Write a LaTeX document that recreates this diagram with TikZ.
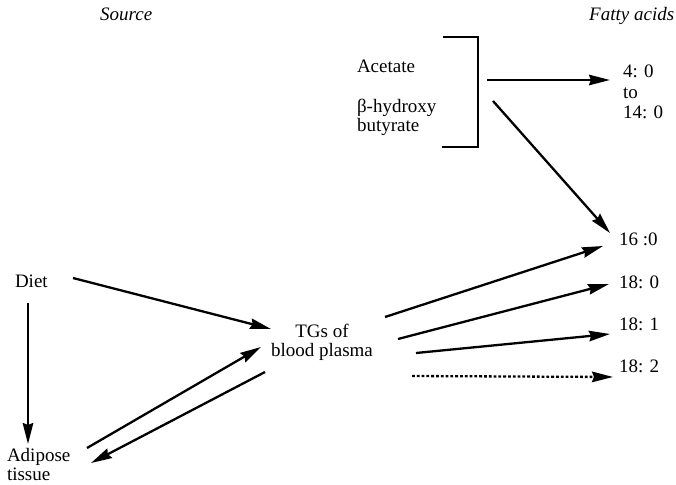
\documentclass[tikz,border=0pt]{standalone}
\usepackage{fontspec}
\setmainfont{Liberation Serif}
\usetikzlibrary{arrows.meta}
\begin{document}
\begin{tikzpicture}[x=1pt,y=-1pt,
  lbl/.style={inner sep=0pt,outer sep=0pt,font=\fontsize{19}{19}\selectfont,anchor=base west},
  head/.style={inner sep=0pt,font=\fontsize{19}{20}\selectfont\itshape,anchor=base west},
  flow/.style={line width=2.3pt,-{Stealth[length=21pt,width=10.5pt,inset=2pt]}},
  dotflow/.style={flow,dash pattern=on 2.8pt off 2pt}]
\useasboundingbox (0,0) rectangle (676,484);

% column headings
\node[head] (src) at (100,21) {Source};
\node[head] (fa) at (589,21) {Fatty acids};

% ketone-body precursors and their bracket
\node[lbl] (acet) at (357,73) {Acetate};
\node[lbl,align=left] (bhb) at (357,131) {β-hydroxy\\butyrate};
\draw[line width=2.6pt] (443,37) -| (478,147) -- (442,147);

% fatty-acid products
\node[lbl,align=left,font=\fontsize{19}{20}\selectfont] (short) at (623,118) {4: 0\\to\\14: 0};
\node[lbl] (c160) at (619,245) {16 :0};
\node[lbl] (c180) at (619,288) {18: 0};
\node[lbl] (c181) at (619,330) {18: 1};
\node[lbl] (c182) at (619,372) {18: 2};

% sources
\node[lbl] (diet) at (15,287) {Diet};
\node[lbl,align=left] (adip) at (7,480) {Adipose\\tissue};
\node[lbl,align=center,anchor=base] (tg) at (322,356) {TGs of\\blood plasma};

% connector end points
\coordinate (brOut) at (487,80);
\coordinate (brDiag) at (493,101);
\coordinate (shortIn) at (610,80);
\coordinate (c160in) at (610,233);
\coordinate (c160in2) at (603,246);
\coordinate (c180in) at (609,284);
\coordinate (c181in) at (610,334);
\coordinate (c182in) at (613,377);
\coordinate (tgA) at (385,317);
\coordinate (tgB) at (398,339);
\coordinate (tgC) at (416,353);
\coordinate (tgD) at (412,376);
\coordinate (tgInDiet) at (271,329);
\coordinate (tgInAd) at (261,347);
\coordinate (tgOutAd) at (265,372);
\coordinate (dietR) at (73,278);
\coordinate (dietB) at (28,303);
\coordinate (adT) at (28,444);
\coordinate (adR) at (87,448);
\coordinate (adIn) at (91,463);

% connectors
\draw[flow] (brOut) -- (shortIn);
\draw[flow] (brDiag) -- (c160in);
\draw[flow] (tgA) -- (c160in2);
\draw[flow] (tgB) -- (c180in);
\draw[flow] (tgC) -- (c181in);
\draw[dotflow] (tgD) -- (c182in);
\draw[flow] (dietR) -- (tgInDiet);
\draw[flow] (dietB) -- (adT);
\draw[flow] (adR) -- (tgInAd);
\draw[flow] (tgOutAd) -- (adIn);
\end{tikzpicture}
\end{document}
